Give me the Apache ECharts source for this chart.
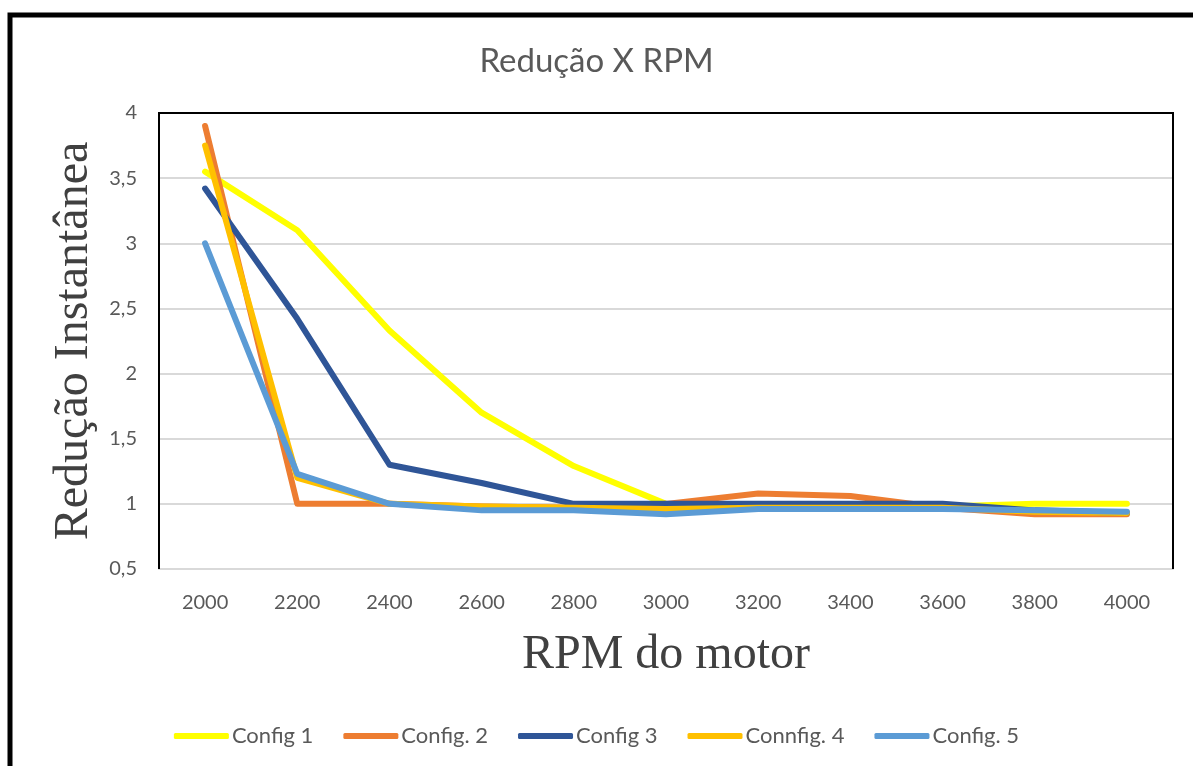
<!DOCTYPE html>
<html>
<head>
<meta charset="utf-8">
<script src="https://cdn.jsdelivr.net/npm/echarts@6/dist/echarts.min.js"></script>
<style>
html,body{margin:0;padding:0;background:#fff;}
#chart{width:1193px;height:766px;}
</style>
</head>
<body>
<div id="chart"></div>
<script>
var categories = ['2000','2200','2400','2600','2800','3000','3200','3400','3600','3800','4000'];
var config1 = [3.55, 3.10, 2.33, 1.70, 1.29, 1.00, 0.98, 0.98, 0.98, 1.00, 1.00];
var config2 = [3.90, 1.00, 1.00, 0.98, 0.97, 1.00, 1.08, 1.06, 0.97, 0.92, 0.92];
var config3 = [3.42, 2.42, 1.30, 1.16, 1.00, 1.00, 1.00, 1.00, 1.00, 0.95, 0.93];
var config4 = [3.75, 1.20, 1.00, 0.98, 0.97, 0.96, 0.97, 0.97, 0.97, 0.94, 0.93];
var config5 = [3.00, 1.23, 1.00, 0.95, 0.95, 0.92, 0.96, 0.96, 0.96, 0.95, 0.94];
var seriesNames = ['Config 1', 'Config. 2', 'Config 3', 'Connfig. 4', 'Config. 5'];
var colors = ['#FFFF00', '#ED7D31', '#2F5597', '#FFC000', '#5B9BD5'];
var yTicks = [0.5, 4, 0.5]; // min, max, interval

var chart = echarts.init(document.getElementById('chart'), null, {renderer: 'canvas'});
var data = [config1, config2, config3, config4, config5];
var series = data.map(function (d, i) {
  return {
    name: seriesNames[i],
    type: 'line',
    data: d,
    showSymbol: false,
    symbol: 'none',
    smooth: false,
    lineStyle: {width: 6, color: colors[i], cap: 'round', join: 'round'},
    itemStyle: {color: colors[i]},
    z: 2 + i
  };
});

var G = {left: 159, right: 1173, top: 113, bottom: 569};

chart.setOption({
  animation: false,
  backgroundColor: '#ffffff',
  title: {
    text: 'Redução X RPM',
    left: 'center',
    top: 40,
    textStyle: {fontFamily: 'Lato', fontSize: 33, fontWeight: 'normal', color: '#595959'}
  },
  legend: {
    top: 720,
    left: 'center',
    itemWidth: 55,
    itemHeight: 6,
    itemGap: 30,
    icon: 'roundRect',
    data: seriesNames,
    textStyle: {fontFamily: 'Lato', fontSize: 22, color: '#595959', padding: [0, 0, 0, -2]}
  },
  grid: {left: G.left, right: 1193 - G.right, top: G.top, bottom: 766 - G.bottom, show: false},
  xAxis: {
    type: 'category',
    data: categories,
    boundaryGap: true,
    name: 'RPM do motor',
    nameLocation: 'middle',
    nameGap: 62,
    nameTextStyle: {fontFamily: 'Liberation Serif', fontSize: 48, color: '#404040'},
    axisLine: {show: true, lineStyle: {color: '#d9d9d9', width: 2}},
    axisTick: {show: false},
    axisLabel: {margin: 24, fontFamily: 'Lato', fontSize: 20, color: '#595959'},
    splitLine: {show: false}
  },
  yAxis: {
    type: 'value',
    min: yTicks[0],
    max: yTicks[1],
    interval: yTicks[2],
    name: 'Redução Instantânea',
    nameLocation: 'middle',
    nameGap: 58,
    nameTextStyle: {fontFamily: 'Liberation Serif', fontSize: 48, color: '#404040'},
    axisLine: {show: false},
    axisTick: {show: false},
    axisLabel: {
      margin: 22, fontFamily: 'Lato', fontSize: 20, color: '#595959',
      formatter: function (v) { return String(v).replace('.', ','); }
    },
    splitLine: {show: true, lineStyle: {color: '#d9d9d9', width: 2}}
  },
  graphic: [{
    type: 'polyline',
    shape: {points: [[G.left, G.bottom], [G.left, G.top], [G.right, G.top], [G.right, G.bottom]]},
    style: {fill: 'none', stroke: '#000', lineWidth: 2},
    z: 50
  }, {
    type: 'rect',
    shape: {x: 10, y: 15, width: 1200, height: 800},
    style: {fill: 'none', stroke: '#000', lineWidth: 5},
    z: 100
  }],
  series: series
});
</script>
</body>
</html>
